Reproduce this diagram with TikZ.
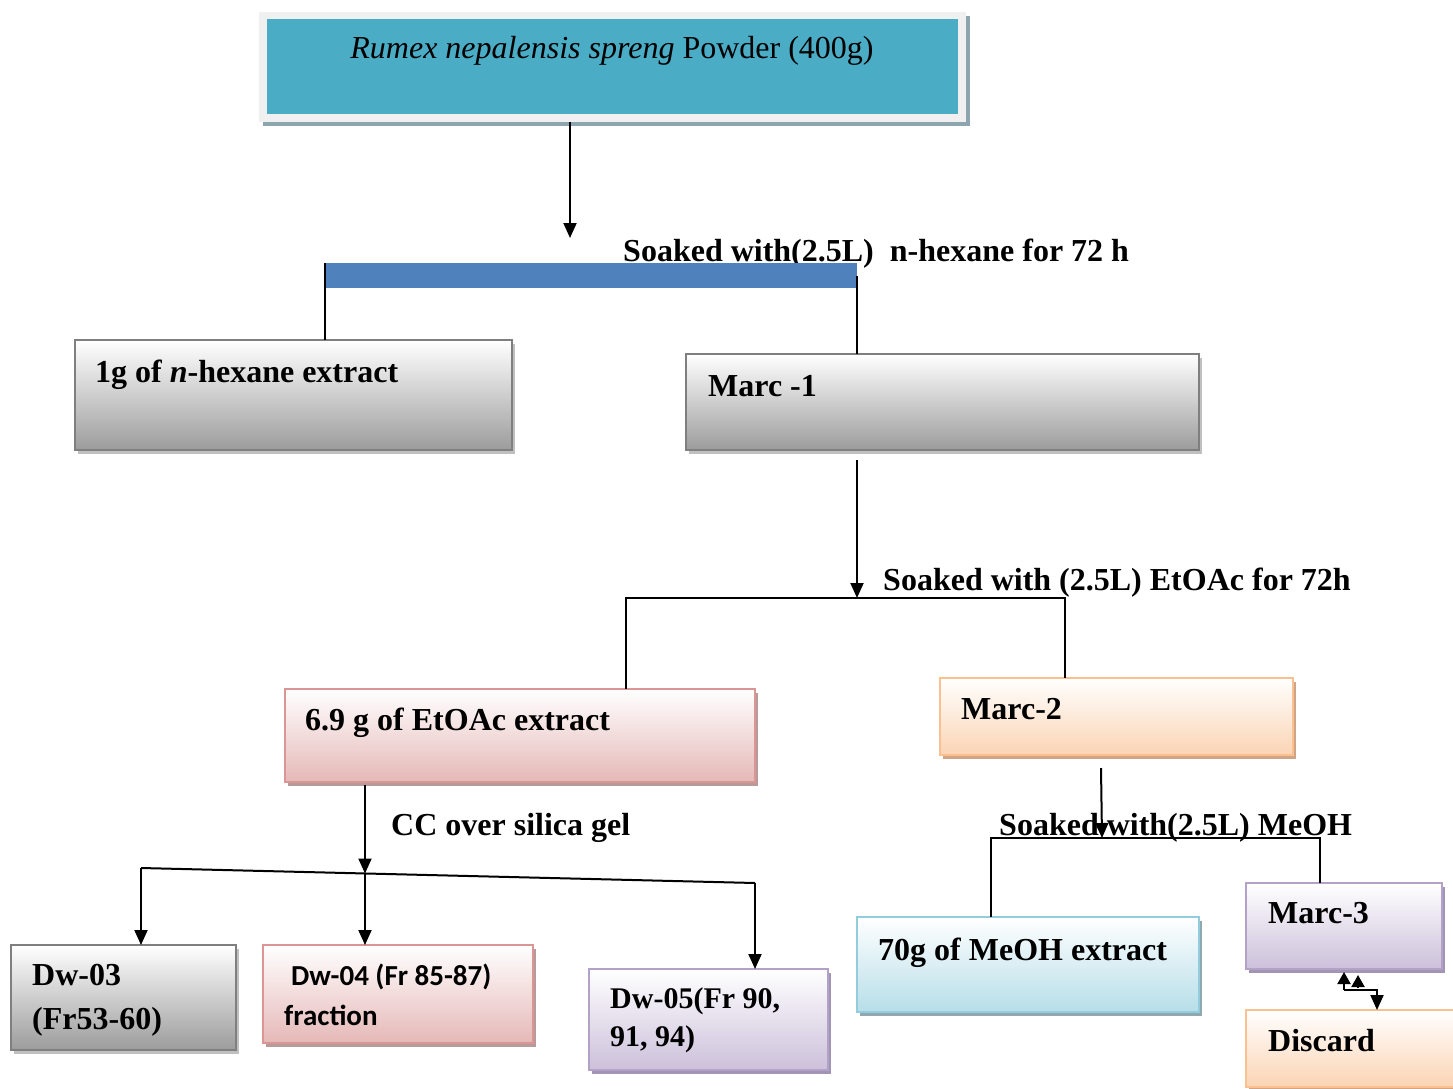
\documentclass[tikz,border=0pt]{standalone}
\usepackage{fontspec}
\setmainfont{Liberation Serif}
\newfontfamily\calibri{Carlito}
\usetikzlibrary{shadows,arrows.meta,calc}
\definecolor{tealfill}{HTML}{4BACC6}
\definecolor{framegray}{HTML}{F0F0F0}
\definecolor{topshadow}{HTML}{8CA5AE}
\definecolor{barblue}{HTML}{4F81BD}
\definecolor{grayline}{HTML}{7F7F7F}
\definecolor{grayfill}{HTML}{9C9C9C}
\definecolor{grayshadow}{HTML}{C0C0C0}
\definecolor{pinkline}{HTML}{D99694}
\definecolor{pinkfill}{HTML}{E5B8B7}
\definecolor{pinkshadow}{HTML}{B89A9A}
\definecolor{orangeline}{HTML}{FAC090}
\definecolor{orangefill}{HTML}{FBD4B4}
\definecolor{orangeshadow}{HTML}{D0A484}
\definecolor{purpleline}{HTML}{B3A2C7}
\definecolor{purplefill}{HTML}{CCC0DA}
\definecolor{purpleshadow}{HTML}{A294B4}
\definecolor{blueline}{HTML}{93CDDD}
\definecolor{bluefill}{HTML}{B7DEE8}
\definecolor{blueshadow}{HTML}{90A8B0}
\tikzset{
  bxbase/.style={rectangle, anchor=north west, line width=2pt, inner sep=0pt, outer sep=0pt},
  graybx/.style={bxbase, draw=grayline, top color=white, bottom color=grayfill,
    drop shadow={shadow xshift=3pt,shadow yshift=-4pt,fill=grayshadow,opacity=1}},
  pinkbx/.style={bxbase, draw=pinkline, top color=white, bottom color=pinkfill,
    drop shadow={shadow xshift=3pt,shadow yshift=-4pt,fill=pinkshadow,opacity=1}},
  orangebx/.style={bxbase, draw=orangeline, top color=white, bottom color=orangefill,
    drop shadow={shadow xshift=3pt,shadow yshift=-4pt,fill=orangeshadow,opacity=1}},
  purplebx/.style={bxbase, draw=purpleline, top color=white, bottom color=purplefill,
    drop shadow={shadow xshift=3pt,shadow yshift=-4pt,fill=purpleshadow,opacity=1}},
  bluebx/.style={bxbase, draw=blueline, top color=white, bottom color=bluefill,
    drop shadow={shadow xshift=3pt,shadow yshift=-4pt,fill=blueshadow,opacity=1}},
  lbl/.style={anchor=base west, inner sep=0pt, font=\fontsize{32}{37}\selectfont\bfseries},
  clbl/.style={anchor=base west, inner sep=0pt, font=\fontsize{29}{34}\selectfont\calibri\bfseries},
  conn/.style={line width=2pt, black},
  arr/.style={conn, -{Triangle[length=15pt,width=13pt]}},
  arrup/.style={conn, -{Triangle[length=12pt,width=13pt]}}
}
\begin{document}
\begin{tikzpicture}[x=1pt,y=-1pt]
\fill[white] (0,0) rectangle (1453,1089);
\useasboundingbox (0,0) rectangle (1453,1089);

% top box
\node[rectangle, anchor=north west, fill=framegray, inner sep=0pt, minimum width=707pt, minimum height=110pt,
  drop shadow={shadow xshift=4pt,shadow yshift=-4pt,fill=topshadow,opacity=1}] (topframe) at (259,12) {};
\node[rectangle, anchor=north west, fill=tealfill, inner sep=0pt, minimum width=691pt, minimum height=95pt] (top) at (267,19) {};
\node[anchor=base, inner sep=0pt, font=\fontsize{32}{36}\selectfont] (toptxt) at (612,59) {\textit{Rumex nepalensis spreng} Powder (400g)};

% first split
\coordinate (a1) at (570,238);
\draw[arr] (topframe.south -| a1) -- (a1);
\node[lbl] (l1) at (623,261) {Soaked with(2.5L)\ \ n-hexane for 72 h};
\node[rectangle, anchor=north west, fill=barblue, inner sep=0pt, minimum width=532pt, minimum height=25pt] (bar) at (325,263) {};

\node[graybx, minimum width=437pt, minimum height=110pt] (hex) at (75,340) {};
\node[lbl] (hext) at (95,382) {1g of \textit{n}-hexane extract};
\node[graybx, minimum width=513pt, minimum height=96pt] (marc1) at (686,354) {};
\node[lbl] (marc1t) at (708,396) {Marc -1};

\draw[conn] (bar.north west) -- (hex.north -| bar.west);
\draw[conn] (bar.east) -- (marc1.north -| bar.east);

% second split
\coordinate (b2l) at (626,598);
\coordinate (b2m) at (857,598);
\coordinate (b2r) at (1065,598);
\draw[arr] ($(marc1.south -| b2m)+(0,10)$) -- (b2m);
\node[lbl] (l2) at (883,590) {Soaked with (2.5L) EtOAc for 72h};

\node[pinkbx, minimum width=470pt, minimum height=93pt] (eto) at (285,689) {};
\node[lbl] (etot) at (305,730) {6.9 g of EtOAc extract};
\node[orangebx, minimum width=353pt, minimum height=77pt] (marc2) at (940,678) {};
\node[lbl] (marc2t) at (961,719) {Marc-2};

\draw[conn] (eto.north -| b2l) -- (b2l) -- (b2r) -- (marc2.north -| b2r);

% column chromatography
\coordinate (b3l) at (141,868);
\coordinate (b3m) at (365,873.5);
\coordinate (b3r) at (755,883);
\draw[arr] ($(eto.south -| b3m)+(0,3)$) -- (b3m);
\node[lbl] (l3) at (391,835) {CC over silica gel};
\draw[conn] (b3l) -- (b3r);

\node[graybx, minimum width=225pt, minimum height=105pt] (dw3) at (11,945) {};
\node[lbl] (dw3a) at (32,985) {Dw-03};
\node[lbl] (dw3b) at (32,1029) {(Fr53-60)};
\node[pinkbx, minimum width=270pt, minimum height=98pt] (dw4) at (263,945) {};
\node[clbl] (dw4a) at (291,985) {Dw-04 (Fr 85-87)};
\node[clbl] (dw4b) at (284,1025) {fraction};
\node[purplebx, minimum width=239pt, minimum height=101pt] (dw5) at (589,969) {};
\node[lbl, font=\fontsize{30}{34}\selectfont\bfseries] (dw5a) at (610,1008) {Dw-05(Fr 90,};
\node[lbl, font=\fontsize{30}{34}\selectfont\bfseries] (dw5b) at (610,1046) {91, 94)};

\draw[arr] (b3l) -- (dw3.north -| b3l);
\draw[arr] (b3m) -- (dw4.north -| b3m);
\draw[arr] (b3r) -- (dw5.north -| b3r);

% methanol
\coordinate (b4l) at (991,838);
\coordinate (b4m) at (1102,838);
\coordinate (b4r) at (1320,838);
\node[lbl] (l4) at (999,835) {Soaked with(2.5L) MeOH};
\draw[arr] ($(marc2.south -| b4m)+(-1,13)$) -- (b4m);
\node[bluebx, minimum width=342pt, minimum height=95pt] (meoh) at (857,917) {};
\node[lbl] (meoht) at (878,960) {70g of MeOH extract};
\node[purplebx, minimum width=196pt, minimum height=86pt] (marc3) at (1246,883) {};
\node[lbl] (marc3t) at (1268,923) {Marc-3};
\draw[conn] (meoh.north -| b4l) -- (b4l) -- (b4r) -- (marc3.north -| b4r);

\node[orangebx, minimum width=230pt, minimum height=77pt] (disc) at (1246,1010) {};
\node[lbl] (disct) at (1268,1051) {Discard};

\coordinate (d1) at (1344,990);
\coordinate (d2) at (1377,990);
\coordinate (d3) at (1358,988);
\draw[arrup] (d1) -- ($(marc3.south -| d1)+(0,3)$);
\draw[arrup] (d3) -- ($(marc3.south -| d3)+(0,6)$);
\draw[arr] (d1) -- (d2) -- (disc.north -| d2);
\end{tikzpicture}
\end{document}
